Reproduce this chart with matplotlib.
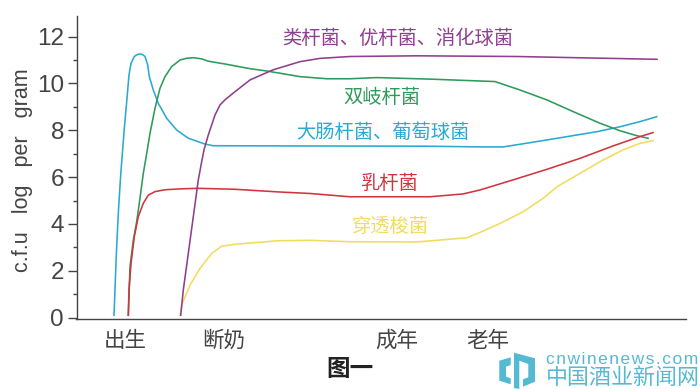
import matplotlib
matplotlib.use('Agg')
import matplotlib.pyplot as plt
from matplotlib.patches import Polygon

plt.rcParams['font.family'] = ['Liberation Sans', 'Noto Sans CJK SC', 'DejaVu Sans']

# x is position along the life-stage axis, y is log c.f.u per gram
blue_x = [114, 116.5, 118.5, 120.7, 122.7, 124.3, 126.7, 129, 131, 134.3, 137, 140.7, 143, 145, 147.7, 149.3, 153.3, 158.3, 166.7, 176.7, 188.3, 205, 213.3, 300, 425, 480, 503.3, 530, 563, 597, 620, 640, 656.7]
blue_y = [0.1, 2.88, 4.6, 6.1, 7.2, 8.08, 9.22, 10.36, 10.86, 11.15, 11.23, 11.26, 11.22, 11.15, 10.79, 10.29, 9.72, 9.15, 8.51, 8.01, 7.66, 7.41, 7.34, 7.33, 7.32, 7.29, 7.29, 7.47, 7.7, 7.94, 8.15, 8.37, 8.58]

green_x = [128.3, 130, 133.3, 136.7, 139.3, 143.3, 147.3, 150, 155, 160, 165, 171.7, 180, 186, 193.3, 201.7, 208.3, 225, 250, 267, 300, 327, 350, 377, 433, 495, 520, 546.7, 573, 600, 620, 636.7, 648]
green_y = [0.1, 2.17, 3.3, 4.1, 4.88, 6.16, 7.16, 7.87, 8.94, 9.79, 10.29, 10.72, 11.0, 11.07, 11.1, 11.05, 10.95, 10.83, 10.63, 10.53, 10.29, 10.2, 10.2, 10.25, 10.18, 10.08, 9.72, 9.3, 8.8, 8.3, 7.98, 7.77, 7.66]

red_x = [128.3, 129, 131, 134.3, 138.3, 143.3, 148.3, 155, 165, 181.7, 198.3, 235, 277, 310, 350, 430, 463, 480, 513, 546.7, 580, 613, 640, 653]
red_y = [0.1, 1.18, 2.3, 3.46, 4.31, 4.88, 5.23, 5.38, 5.46, 5.5, 5.52, 5.48, 5.37, 5.3, 5.16, 5.16, 5.28, 5.45, 5.88, 6.33, 6.8, 7.33, 7.73, 7.9]

purple_x = [180.7, 183.3, 188.3, 193.3, 198.3, 201.7, 204, 208.3, 215, 220, 225, 233, 250, 273, 300, 320, 350, 417, 517, 657]
purple_y = [0.1, 1.18, 2.74, 4.31, 5.88, 6.66, 7.16, 7.8, 8.65, 9.08, 9.3, 9.58, 10.15, 10.58, 10.93, 11.07, 11.15, 11.18, 11.15, 11.03]

yellow_x = [180, 182.3, 190, 200, 211.7, 221.7, 235, 277, 310, 350, 417, 467, 480, 500, 523, 543, 557, 580, 603, 623, 640, 653]
yellow_y = [0.1, 0.6, 1.39, 2.1, 2.74, 3.05, 3.13, 3.28, 3.3, 3.24, 3.23, 3.41, 3.64, 4.02, 4.52, 5.09, 5.59, 6.16, 6.73, 7.16, 7.44, 7.56]

stage_pos = [125, 224, 397, 488]
stage_labels = ['出生', '断奶', '成年', '老年']
y_major = [0, 2, 4, 6, 8, 10, 12]
y_minor = [1, 3, 5, 7, 9, 11]

dark = '#444444'
blue = '#2aa9d2'
green = '#2e9a5b'
red = '#d0353f'
purple = '#8f3f8f'
yellow = '#f2dc5d'
logo_blue = '#55b9d3'

fig = plt.figure(figsize=(7, 3.89), dpi=100)
ax = fig.add_axes([76.5 / 700, 1 - 319 / 389, 609.5 / 700, 303 / 389])

for xs, ys, c in [(yellow_x, yellow_y, yellow), (blue_x, blue_y, blue), (green_x, green_y, green),
                  (red_x, red_y, red), (purple_x, purple_y, purple)]:
    ax.plot(xs, ys, color=c, lw=1.15, solid_joinstyle='round')

ax.set_xlim(76.5, 686)
ax.set_ylim(-0.06, 12.88)
ax.spines['top'].set_visible(False)
ax.spines['right'].set_visible(False)
ax.spines['left'].set_color(dark)
ax.spines['bottom'].set_color(dark)
ax.spines['left'].set_linewidth(1.0)
ax.spines['bottom'].set_linewidth(1.0)

ax.set_yticks(y_major)
ax.set_yticks(y_minor, minor=True)
ax.tick_params(axis='y', which='major', length=6.5, width=1, color=dark, labelcolor=dark, labelsize=17.5, pad=2.5)
ax.tick_params(axis='y', which='minor', length=3.2, width=1, color=dark)
ax.set_xticks(stage_pos)
ax.set_xticklabels(stage_labels, fontsize=15.5, color=dark)
ax.tick_params(axis='x', length=0, pad=8.5)

fig.text(23 / 700, 1 - 170 / 389, 'c.f.u   log   per   gram', rotation=90, fontsize=15.5, color=dark,
         ha='center', va='center')

# curve names
ax.text(398, 11.9, '类杆菌、优杆菌、消化球菌', color=purple, fontsize=13.9, ha='center', va='center')
ax.text(382, 9.37, '双岐杆菌', color=green, fontsize=13.9, ha='center', va='center')
ax.text(383, 7.9, '大肠杆菌、葡萄球菌', color=blue, fontsize=13.9, ha='center', va='center')
ax.text(389, 5.72, '乳杆菌', color=red, fontsize=13.9, ha='center', va='center')
ax.text(390, 3.87, '穿透梭菌', color=yellow, fontsize=13.9, ha='center', va='center')

fig.text(350 / 700, 1 - 369.5 / 389, '图一', fontsize=17, fontweight='bold', color='#222222', ha='center', va='center')

# watermark
for pts in [[(499.3, 360.7), (510.7, 357.3), (510.7, 365), (506, 366.7), (506, 376.7), (510.7, 378.3), (510.7, 384.3), (499.3, 380.7)],
            [(514, 352.7), (535, 358.3), (535, 381.7), (523, 386.7), (523, 379.3), (528.3, 377.3), (528.3, 364), (519.3, 360.7), (519.3, 389), (514, 388)]]:
    fig.add_artist(Polygon([(x / 700, 1 - y / 389) for x, y in pts], closed=True, facecolor=logo_blue,
                           edgecolor='none', transform=fig.transFigure))
fig.text(546 / 700, 1 - 359 / 389, '\u200a'.join('cnwinenews.com'), fontsize=12.5, color=logo_blue, ha='left', va='center')
fig.text(546 / 700, 1 - 378 / 389, '中国酒业新闻网', fontsize=15.8, color=logo_blue, ha='left', va='center')

fig.savefig('out.png', dpi=100)
